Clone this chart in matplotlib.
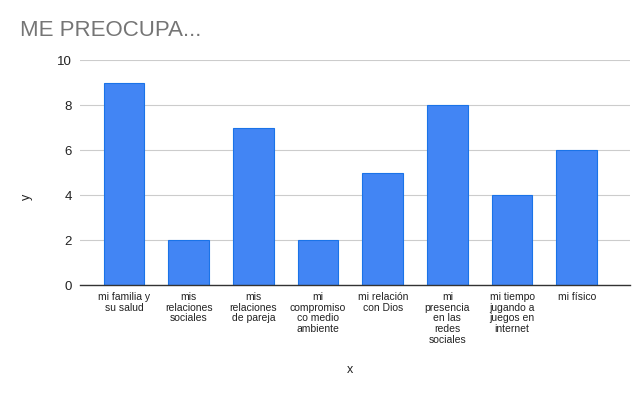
import matplotlib.pyplot as plt

categories = [
    "mi familia y\nsu salud",
    "mis\nrelaciones\nsociales",
    "mis\nrelaciones\nde pareja",
    "mi\ncompromiso\nco medio\nambiente",
    "mi relación\ncon Dios",
    "mi\npresencia\nen las\nredes\nsociales",
    "mi tiempo\njugando a\njuegos en\ninternet",
    "mi físico",
]
values = [9, 2, 7, 2, 5, 8, 4, 6]
y_ticks = [0, 2, 4, 6, 8, 10]

plt.rcParams["font.family"] = ["Liberation Sans", "DejaVu Sans"]

fig = plt.figure(figsize=(6.4, 3.96), dpi=100)
ax = fig.add_axes([0.125, 0.28, 0.859, 0.568])

x = list(range(len(categories)))
ax.bar(x, values, width=0.63, color="#4285F4", edgecolor="#1a73e8",
       linewidth=0.8, zorder=3)

ax.set_xlim(-0.68, 7.82)
ax.set_ylim(0, 10)
ax.set_yticks(y_ticks)
ax.set_yticklabels([str(v) for v in y_ticks], fontsize=9.5, color="#222222")
ax.set_xticks(x)
ax.set_xticklabels(categories, fontsize=7.5, color="#222222", linespacing=1.08)

ax.grid(axis="y", color="#cccccc", linewidth=0.8, zorder=0)
ax.tick_params(axis="both", length=0, pad=6)
ax.tick_params(axis="x", pad=5)
for side in ["top", "right", "left"]:
    ax.spines[side].set_visible(False)
ax.spines["bottom"].set_color("#333333")
ax.spines["bottom"].set_linewidth(1)
ax.spines["bottom"].set_zorder(4)

# axis titles and chart title
fig.text(350 / 640, 1 - 370 / 396, "x", fontsize=9, color="#222222",
         ha="center", va="center")
fig.text(27 / 640, 1 - 197 / 396, "y", fontsize=9, color="#222222",
         ha="center", va="center", rotation=90)
fig.text(20 / 640, 1 - 31 / 396, "ME PREOCUPA...", fontsize=16,
         color="#757575", ha="left", va="center")

plt.savefig("out.png", dpi=100)
plt.close()
